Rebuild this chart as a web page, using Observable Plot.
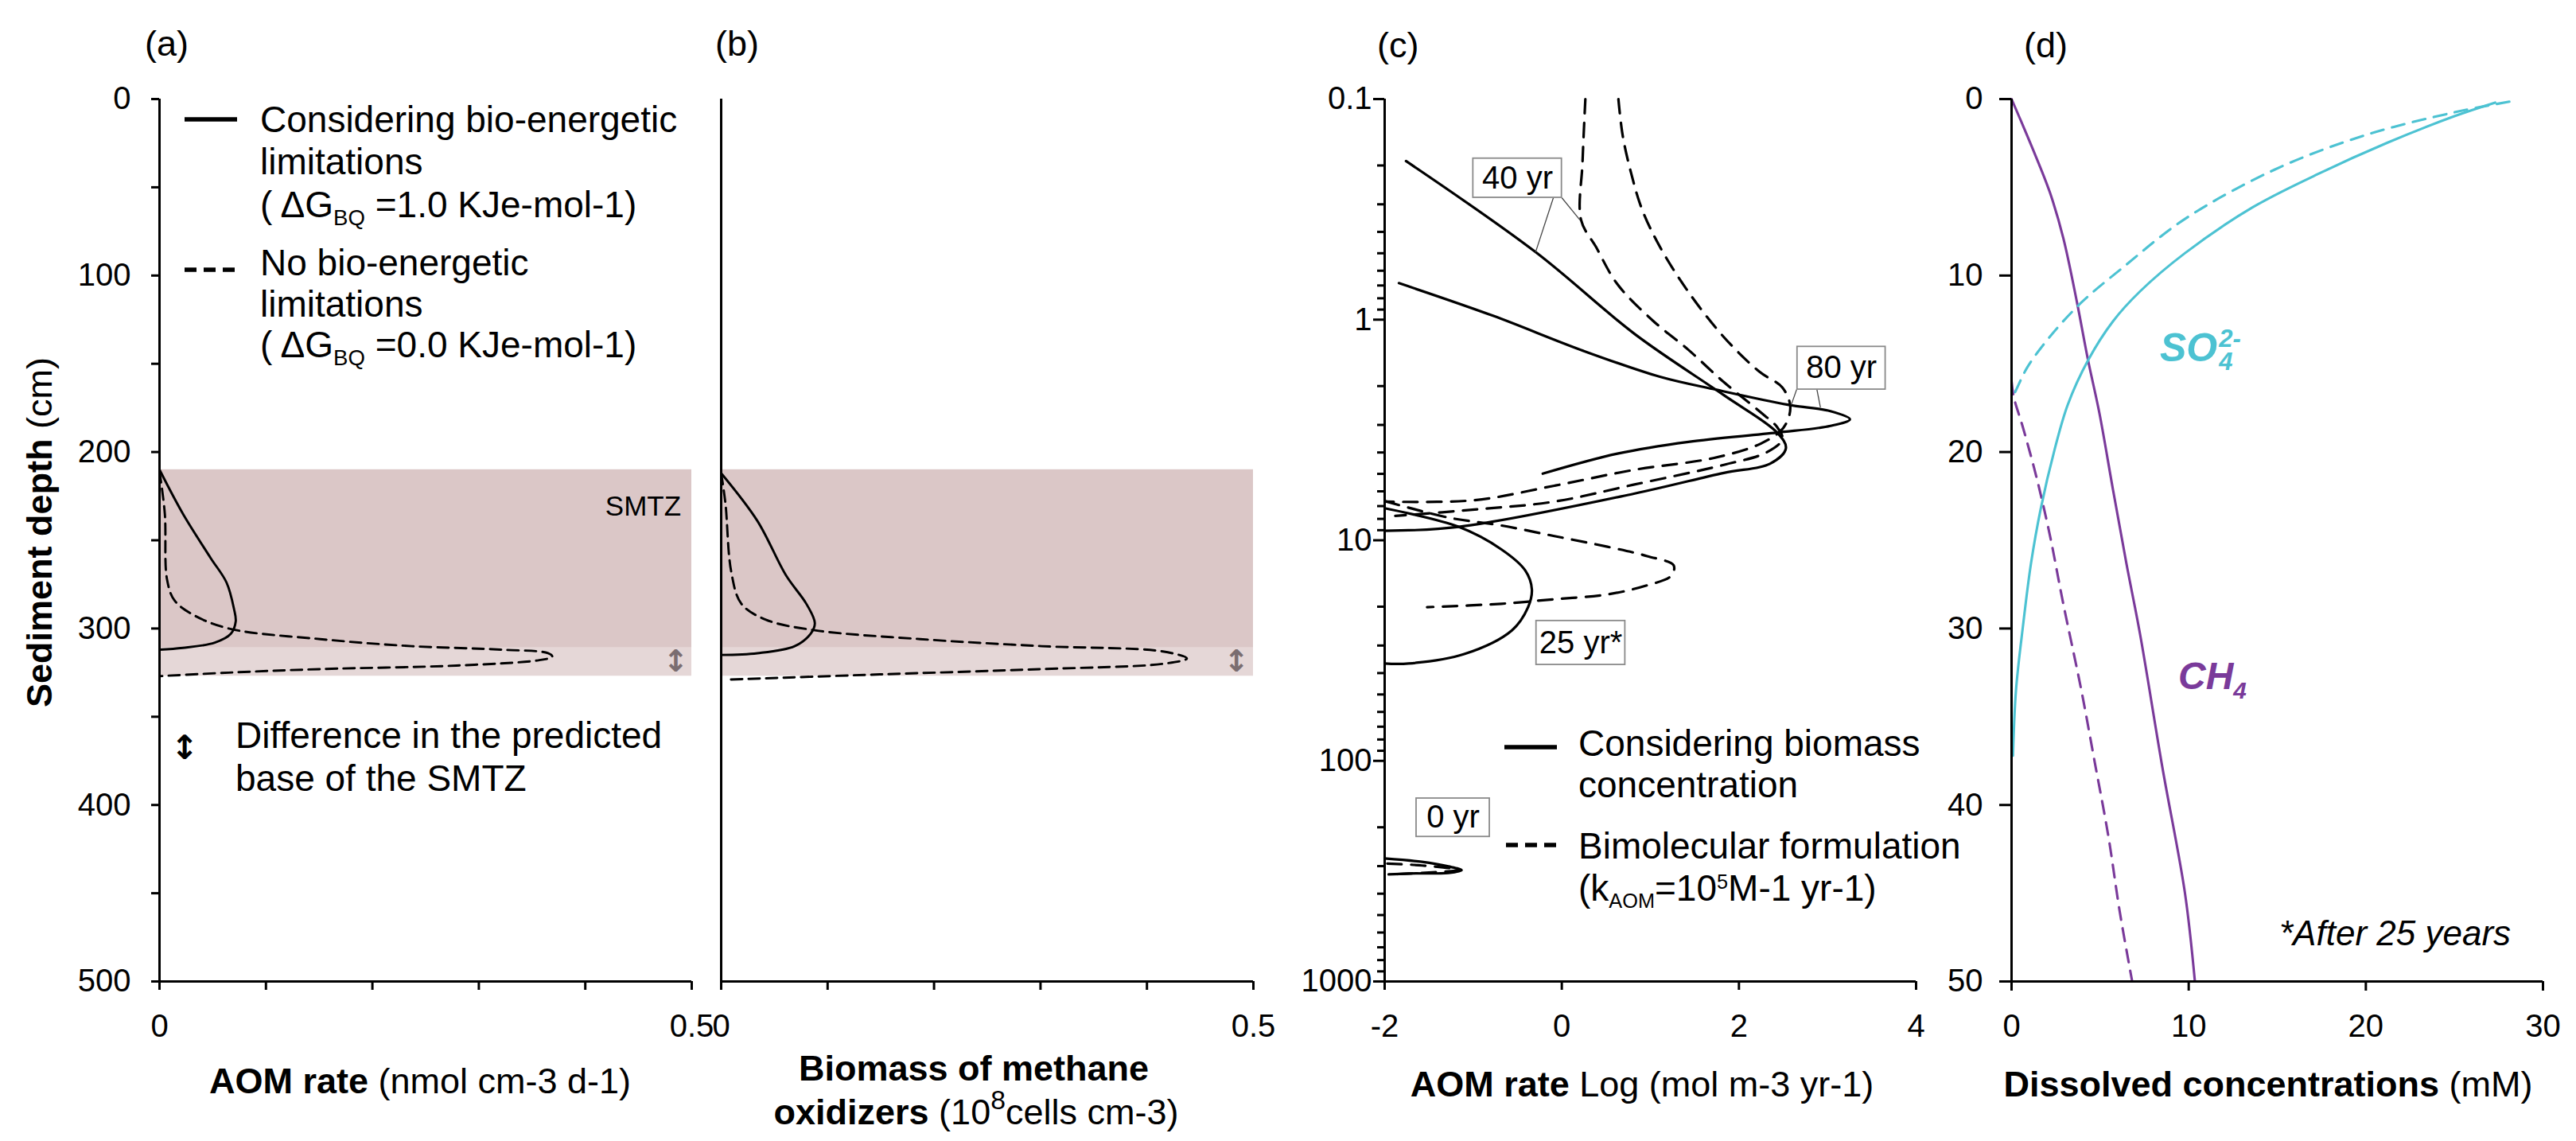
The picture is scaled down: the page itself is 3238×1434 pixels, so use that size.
<!DOCTYPE html>
<html>
<head>
<meta charset="utf-8">
<script src="https://cdn.jsdelivr.net/npm/d3@7"></script>
<script src="https://cdn.jsdelivr.net/npm/@observablehq/plot@0.6"></script>
<style>
  html, body { margin: 0; padding: 0; background: #fff; }
  #root { position: relative; width: 3238px; height: 1434px; background: #fff; overflow: hidden;
          font-family: "Liberation Sans", Arial, Helvetica, sans-serif; color: #000; }
  .abs { position: absolute; white-space: nowrap; line-height: 1; }
  .lab { font-size: 46px; transform: translateY(-50%); }
  .ttl { font-size: 45px; transform: translate(-50%, -50%); }
  .sub { font-size: 0.6em; position: relative; top: 0.35em; }
  .sup { font-size: 0.7em; position: relative; top: -0.55em; }
</style>
</head>
<body>
<div id="root"></div>
<script>
// ---------------- DATA ----------------
// Panel (a): AOM rate (nmol cm-3 d-1) vs depth (cm)
const aSolid  = [[0,210],[0.022,235],[0.048,260],[0.063,274],[0.070,289],[0.0716,296],[0.067,303],[0.052,308],[0.022,311],[0,312]];
const aDashed = [[0,211],[0.005,235],[0.007,272],[0.014,284],[0.031,292],[0.065,300],[0.151,306],[0.237,310],[0.322,312],[0.365,314],[0.369,316],[0.356,318],[0.279,321],[0.151,323],[0.065,325],[0,327]];
// Panel (b): biomass (1e8 cells cm-3) vs depth (cm)
const bSolid  = [[0,212],[0.034,239],[0.061,270],[0.080,286],[0.088,297],[0.084,303],[0.069,310],[0.034,314],[0,315]];
const bDashed = [[0,212],[0.004,229],[0.0095,268],[0.019,286],[0.042,295],[0.088,301],[0.187,306],[0.301,310],[0.415,313],[0.4375,317],[0.415,320],[0.301,323],[0.149,326],[0.004,329]];
// SMTZ zones (depth, cm)
const smtzZone = [{top: 210, base: 311}];
const smtzDiff = [{top: 311, base: 327}];
// Panel (c): log AOM rate vs depth (log scale)
const c0Solid   = [[-2,277],[-1.58,287],[-1.281,301],[-1.131,313],[-1.281,322],[-1.73,324],[-1.955,327]];
const c0Dashed  = [[-1.97,292],[-1.58,298],[-1.16,312],[-1.58,322],[-1.94,327]];
const c25Solid  = [[-2,7.16],[-1.165,8.69],[-0.682,11.0],[-0.413,13.7],[-0.338,16.7],[-0.383,20.2],[-0.563,25.6],[-1.102,32.8],[-1.731,36.2],[-2,36.2]];
const c25Dashed = [[-1.994,6.65],[-1.281,7.89],[-0.682,8.57],[-0.084,9.57],[0.515,10.7],[0.964,11.8],[1.263,13.0],[1.234,14.5],[0.964,16.0],[0.515,17.6],[-0.084,18.5],[-0.682,19.4],[-1.521,20.1]];
const c40Solid  = [[-1.759,0.191],[-0.296,0.494],[0.827,1.165],[1.83,2.2],[2.431,3.25],[2.53,3.83],[2.35,4.5],[1.83,4.95],[0.814,6.15],[-1.162,8.69],[-2,9.06]];
const c40Dashed = [[0.266,0.1],[0.234,0.193],[0.218,0.354],[0.386,0.468],[0.627,0.69],[1.028,1.01],[1.429,1.37],[1.83,1.92],[2.23,2.6],[2.431,3.07],[2.49,3.48],[2.31,4.0],[1.83,4.55],[0.81,5.6],[-0.085,6.68],[-0.985,7.26],[-1.88,7.76]];
const c80Solid  = [[-1.839,0.683],[-0.777,0.96],[0.226,1.376],[1.108,1.815],[1.749,2.08],[2.551,2.43],[3.033,2.60],[3.253,2.83],[3.033,3.03],[2.431,3.25],[1.429,3.58],[0.627,4.05],[-0.215,4.99]];
const c80Dashed = [[0.639,0.1],[0.687,0.146],[0.787,0.22],[0.907,0.317],[1.108,0.468],[1.429,0.748],[1.83,1.2],[2.23,1.72],[2.49,2.03],[2.58,2.5],[2.5,3.1],[2.25,3.64],[1.71,4.24],[0.81,4.8],[-0.085,5.66],[-0.985,6.58],[-2,6.68]];
const cYearLabels = ["40 yr", "80 yr", "25 yr*", "0 yr"];
// Panel (d): dissolved concentrations (mM) vs depth
const ch4Solid  = [[0,0],[1.14,2.69],[2.16,5.28],[2.92,7.87],[3.69,11.5],[4.32,14.8],[4.96,17.8],[5.72,22.1],[6.48,26.3],[7.25,30.3],[8.52,37.9],[9.79,45.0],[10.35,50]];
const ch4Dashed = [[0,16],[0.13,16.9],[0.64,18.6],[1.4,21.4],[2.16,24.7],[2.9,28.5],[3.94,33.5],[4.7,37.6],[5.47,41.8],[6.1,46.0],[6.81,50]];
const so4Solid  = [[27.3,0.2],[25.0,0.97],[21.2,2.48],[17.4,4.2],[13.6,6.14],[9.79,8.73],[7.25,10.9],[5.72,12.6],[4.32,14.8],[3.18,17.3],[2.42,19.9],[1.65,23.2],[1.1,26.3],[0.64,29.9],[0.25,33.5],[0.08,37.2]];
const so4Dashed = [[28.1,0.15],[25.0,0.75],[19.96,2.05],[14.87,3.99],[9.79,6.79],[6.23,9.59],[3.94,11.53],[2.16,13.47],[0.89,15.2],[0.25,16.5],[0.05,16.9]];
// Tick values
const depthMajorA = [0,100,200,300,400,500];
const depthMinorA = [50,150,250,350,450];
const rateTicksA  = [0,0.1,0.2,0.3,0.4,0.5];
const logMajor    = [0.1,1,10,100,1000];
const logMinor    = [2,3,4,5,6,7,8,9].flatMap(m => [m*0.1, m, m*10, m*100]);
const rateTicksC  = [-2,0,2,4];
const depthTicksD = [0,10,20,30,40,50];
const concTicksD  = [0,10,20,30];

// ---------------- ANNOTATION LAYOUT ----------------
const cBoxes = [
  {label: cYearLabels[0], x1: -1.0,  x2: 0.0,   y1: 0.186, y2: 0.280},
  {label: cYearLabels[1], x1: 2.66,  x2: 3.655, y1: 1.327, y2: 2.073},
  {label: cYearLabels[2], x1: -0.287,x2: 0.716, y1: 23.2,  y2: 36.7},
  {label: cYearLabels[3], x1: -1.641,x2: -0.814,y1: 148,   y2: 221}
];
const cLeaders = [
  {x1: -0.095, y1: 0.28, x2: -0.296, y2: 0.494},
  {x1: 0.0,    y1: 0.28, x2: 0.206,  y2: 0.354},
  {x1: 2.652,  y1: 2.07, x2: 2.591,  y2: 2.43},
  {x1: 2.88,   y1: 2.07, x2: 2.92,   y2: 2.5}
];

// ---------------- STYLE ----------------
const FONT = '"Liberation Sans", Arial, Helvetica, sans-serif';
const H = 1434, MT = 124, MB = 201;
const INK = "#000";
const SMTZ_DARK = "#dbc7c7", SMTZ_LIGHT = "#e5d7d7", ARROW_GRAY = "#7a6d70";
const PURPLE = "#7a3a9a", CYAN = "#4cc2d2";
const AXW = 3;
const LW = 2.9;
const style = {fontFamily: FONT, fontSize: "40px", background: "transparent", overflow: "visible", maxWidth: "none", color: "#000"};
const xy = {x: d => d[0], y: d => d[1]};
const ends = v => (v === 0 ? "0" : v === 0.5 ? "0.5" : "");

const root = document.getElementById("root");
function place(svg, left) {
  svg.style.position = "absolute";
  svg.style.left = left + "px";
  svg.style.top = "0px";
  root.appendChild(svg);
}
function html(content, left, top, cls, css = "") {
  const d = document.createElement("div");
  d.className = "abs " + (cls || "");
  d.style.cssText += `left:${left}px;top:${top}px;${css}`;
  d.innerHTML = content;
  root.appendChild(d);
  return d;
}
function sample(left, right, y, dashed, width = 5.5) {
  const w = right - left;
  html(`<svg width="${w}" height="12" style="display:block"><line x1="0" y1="6" x2="${w}" y2="6" stroke="#000" stroke-width="${width}" ${dashed ? 'stroke-dasharray="15,9"' : ""}/></svg>`,
       left, y, "", "transform:translateY(-50%)");
}

// ---------------- PANEL (a) ----------------
place(Plot.plot({
  width: 890, height: H, marginLeft: 200, marginRight: 21, marginTop: MT, marginBottom: MB,
  style,
  x: {domain: [0, 0.5]},
  y: {domain: [0, 500], reverse: true},
  marks: [
    Plot.rect(smtzZone, {x1: 0, x2: 0.5, y1: "top", y2: "base", fill: SMTZ_DARK}),
    Plot.rect(smtzDiff, {x1: 0, x2: 0.5, y1: "top", y2: "base", fill: SMTZ_LIGHT}),
    Plot.text(["SMTZ"], {x: 0.49, y: 231, text: d => d, textAnchor: "end", fontSize: 35}),
    Plot.text(["↕"], {x: 0.485, y: 319, text: d => d, fontSize: 38, fill: ARROW_GRAY, fontFamily: "DejaVu Sans", fontWeight: "bold"}),
    Plot.line(aSolid, {...xy, stroke: INK, strokeWidth: LW, curve: "catmull-rom"}),
    Plot.line(aDashed, {...xy, stroke: INK, strokeWidth: LW, strokeDasharray: "14,8", curve: "catmull-rom"}),
    Plot.ruleX([0], {strokeWidth: AXW}),
    Plot.ruleY([500], {strokeWidth: AXW}),
    Plot.axisY(depthMajorA, {tickSize: 10, tickPadding: 26, strokeWidth: AXW, label: null}),
    Plot.axisY(depthMinorA, {tickSize: 10, tickFormat: () => "", strokeWidth: AXW, label: null}),
    Plot.axisX(rateTicksA, {tickSize: 11, tickPadding: 30, strokeWidth: AXW, tickFormat: ends, label: null})
  ]
}), 0);

// ---------------- PANEL (b) ----------------
place(Plot.plot({
  width: 720, height: H, marginLeft: 16, marginRight: 35, marginTop: MT, marginBottom: MB,
  style,
  x: {domain: [0, 0.5]},
  y: {domain: [0, 500], reverse: true, axis: null},
  marks: [
    Plot.rect(smtzZone, {x1: 0, x2: 0.5, y1: "top", y2: "base", fill: SMTZ_DARK}),
    Plot.rect(smtzDiff, {x1: 0, x2: 0.5, y1: "top", y2: "base", fill: SMTZ_LIGHT}),
    Plot.text(["↕"], {x: 0.484, y: 319, text: d => d, fontSize: 38, fill: ARROW_GRAY, fontFamily: "DejaVu Sans", fontWeight: "bold"}),
    Plot.line(bSolid, {...xy, stroke: INK, strokeWidth: LW, curve: "catmull-rom"}),
    Plot.line(bDashed, {...xy, stroke: INK, strokeWidth: LW, strokeDasharray: "14,8", curve: "catmull-rom"}),
    Plot.ruleX([0], {strokeWidth: AXW}),
    Plot.ruleY([500], {strokeWidth: AXW}),
    Plot.axisX(rateTicksA, {tickSize: 11, tickPadding: 30, strokeWidth: AXW, tickFormat: ends, label: null})
  ]
}), 890);

// ---------------- PANEL (c) ----------------
const cLine = (data, dashed) => Plot.line(data, {...xy, stroke: INK, strokeWidth: 3.2, curve: "catmull-rom",
  strokeDasharray: dashed ? "18,12" : null});
place(Plot.plot({
  width: 830, height: H, marginLeft: 130, marginRight: 32, marginTop: MT, marginBottom: MB,
  style,
  x: {domain: [-2, 4]},
  y: {type: "log", domain: [0.1, 1000], reverse: true},
  marks: [
    cLine(c0Solid, false), cLine(c0Dashed, true),
    cLine(c25Solid, false), cLine(c25Dashed, true),
    cLine(c40Solid, false), cLine(c40Dashed, true),
    cLine(c80Solid, false), cLine(c80Dashed, true),
    Plot.link(cLeaders, {x1: "x1", y1: "y1", x2: "x2", y2: "y2", stroke: "#444", strokeWidth: 1.3}),
    Plot.rect(cBoxes, {x1: "x1", x2: "x2", y1: "y1", y2: "y2", fill: "white", stroke: "#8a8a8a", strokeWidth: 1.8}),
    Plot.text(cBoxes, {x: d => (d.x1 + d.x2) / 2, y: d => Math.sqrt(d.y1 * d.y2), text: "label", fontSize: 40}),
    Plot.ruleX([-2], {strokeWidth: AXW}),
    Plot.ruleY([1000], {strokeWidth: AXW}),
    Plot.axisY(logMajor, {tickSize: 14, tickPadding: 2, strokeWidth: AXW, label: null,
      tickFormat: d => (d < 1 ? String(d) : d3.format("d")(d))}),
    Plot.axisY(logMinor, {tickSize: 9, tickFormat: () => "", strokeWidth: AXW, label: null}),
    Plot.axisX(rateTicksC, {tickSize: 11, tickPadding: 30, strokeWidth: AXW, tickFormat: d => String(d), label: null})
  ]
}), 1610);

// ---------------- PANEL (d) ----------------
place(Plot.plot({
  width: 798, height: H, marginLeft: 88, marginRight: 42, marginTop: MT, marginBottom: MB,
  style,
  x: {domain: [0, 30]},
  y: {domain: [0, 50], reverse: true},
  marks: [
    Plot.line(ch4Solid, {...xy, stroke: PURPLE, strokeWidth: 3.1, curve: "catmull-rom"}),
    Plot.line(ch4Dashed, {...xy, stroke: PURPLE, strokeWidth: 3.1, strokeDasharray: "16,11", curve: "catmull-rom"}),
    Plot.line(so4Solid, {...xy, stroke: CYAN, strokeWidth: 3.1, curve: "catmull-rom"}),
    Plot.line(so4Dashed, {...xy, stroke: CYAN, strokeWidth: 3.1, strokeDasharray: "16,11", curve: "catmull-rom"}),
    Plot.ruleX([0], {strokeWidth: AXW}),
    Plot.ruleY([50], {strokeWidth: AXW}),
    Plot.axisY(depthTicksD, {tickSize: 15, tickPadding: 21, strokeWidth: AXW, label: null}),
    Plot.axisX(concTicksD, {tickSize: 12, tickPadding: 29, strokeWidth: AXW, label: null})
  ]
}), 2440);

// ---------------- TEXT OVERLAYS ----------------
// panel letters
html("(a)", 182, 54, "", "font-size:45px;transform:translateY(-50%)");
html("(b)", 899, 54, "", "font-size:45px;transform:translateY(-50%)");
html("(c)", 1731, 56, "", "font-size:45px;transform:translateY(-50%)");
html("(d)", 2544, 56, "", "font-size:45px;transform:translateY(-50%)");

// y title
html("<b>Sediment depth</b> (cm)", 49, 669, "", "font-size:45px;transform:translate(-50%,-50%) rotate(-90deg)");

// x titles
html("<b>AOM rate</b> (nmol cm-3 d-1)", 528, 1358, "ttl");
html("<b>Biomass of methane</b>", 1224, 1342, "ttl");
html('<b>oxidizers</b> (10<span class="sup" style="font-size:0.75em">8</span>cells cm-3)', 1227, 1397, "ttl");
html("<b>AOM rate</b> Log (mol m-3 yr-1)", 2064, 1362, "ttl");
html("<b>Dissolved concentrations</b> (mM)", 2851, 1362, "ttl");

// legend panel (a)
sample(232, 298, 150, false);
html("Considering bio-energetic", 327, 150, "lab");
html("limitations", 327, 203, "lab");
html('( ΔG<span class="sub">BQ</span> =1.0 KJe-mol-1)', 327, 257, "lab");
sample(232, 298, 339, true);
html("No bio-energetic", 327, 330, "lab");
html("limitations", 327, 382, "lab");
html('( ΔG<span class="sub">BQ</span> =0.0 KJe-mol-1)', 327, 433, "lab");
html("↕", 232, 940, "", 'font-size:42px;font-weight:bold;font-family:"DejaVu Sans";transform:translate(-50%,-50%)');
html("Difference in the predicted", 296, 924, "lab");
html("base of the SMTZ", 296, 978, "lab");

// legend panel (c)
sample(1891, 1957, 939, false);
html("Considering biomass", 1984, 934, "lab");
html("concentration", 1984, 986, "lab");
sample(1893, 1960, 1062, true);
html("Bimolecular formulation", 1984, 1063, "lab");
html('(k<span class="sub" style="font-size:0.55em">AOM</span>=10<span class="sup" style="font-size:0.55em;top:-0.6em">5</span>M-1 yr-1)', 1984, 1116, "lab");

// labels panel (d)
html(`<b><i>SO<span style="display:inline-block;vertical-align:middle;font-size:0.62em;line-height:0.95;text-align:left;margin-left:2px"><span style="display:block">2-</span><span style="display:block">4</span></span></i></b>`,
     2715, 440, "", `font-size:50px;color:${CYAN};transform:translateY(-50%)`);
html(`<b><i>CH<span class="sub" style="font-size:0.62em;top:0.4em">4</span></i></b>`, 2738, 850, "", `font-size:48px;color:${PURPLE};transform:translateY(-50%)`);
html("<i>*After 25 years</i>", 2865, 1173, "", "font-size:44px;transform:translateY(-50%)");
</script>
</body>
</html>
